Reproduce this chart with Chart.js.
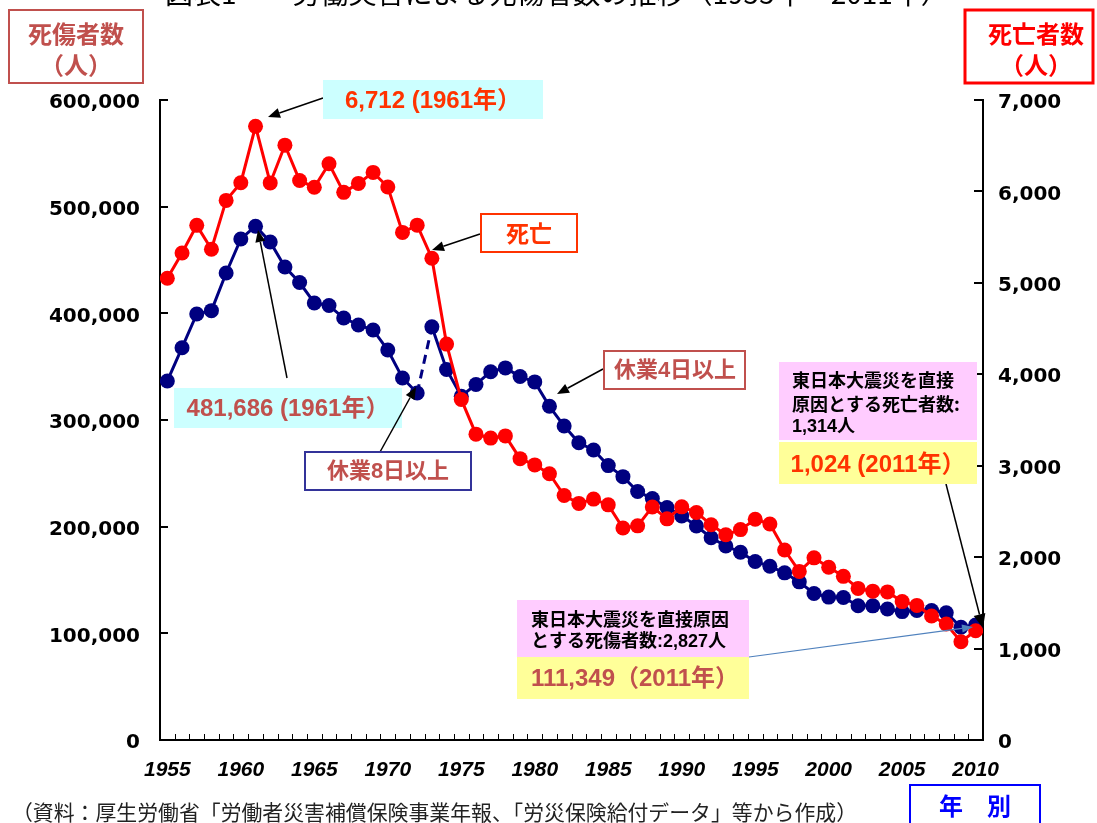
<!DOCTYPE html>
<html>
<head>
<meta charset="utf-8">
<script src="https://cdn.jsdelivr.net/npm/chart.js@4.4.1/dist/chart.umd.min.js"></script>
<style>
  html, body { margin: 0; padding: 0; background: #ffffff; }
  canvas { display: block; }
</style>
</head>
<body>
<canvas id="c" width="1097" height="823"></canvas>
<script>
// Years on the horizontal axis
const years = [
  1955, 1956, 1957, 1958, 1959, 1960, 1961, 1962, 1963, 1964,
  1965, 1966, 1967, 1968, 1969, 1970, 1971, 1972, 1973, 1974,
  1975, 1976, 1977, 1978, 1979, 1980, 1981, 1982, 1983, 1984,
  1985, 1986, 1987, 1988, 1989, 1990, 1991, 1992, 1993, 1994,
  1995, 1996, 1997, 1998, 1999, 2000, 2001, 2002, 2003, 2004,
  2005, 2006, 2007, 2008, 2009, 2010
];

// 死傷者数 (left axis): 休業8日以上 up to 1972, 休業4日以上 from 1973
const casualties = [
  336600, 367800, 399400, 402500, 437800, 469700, 481686, 466900, 443400, 428900,
  409700, 407300, 395600, 389100, 384400, 365600, 339400, 325300, 387342, 347407,
  322322, 333311, 345293, 348826, 340731, 335706, 312844, 294319, 278623, 271884,
  257240, 246891, 232953, 226318, 217964, 210108, 200633, 189589, 181900, 176047,
  167316, 162862, 156726, 148248, 137316, 133948, 133598, 125918, 125750, 122804,
  120354, 121378, 121356, 119291, 105718, 107759
];

// 死亡者数 (right axis)
const deaths = [
  5050, 5327, 5629, 5368, 5902, 6095, 6712, 6093, 6506, 6119,
  6046, 6303, 5990, 6088, 6208, 6048, 5552, 5631, 5269, 4330,
  3725, 3345, 3302, 3326, 3077, 3009, 2912, 2674, 2588, 2635,
  2572, 2318, 2342, 2549, 2419, 2550, 2489, 2354, 2245, 2301,
  2414, 2363, 2078, 1844, 1992, 1889, 1790, 1658, 1628, 1620,
  1514, 1472, 1357, 1268, 1075, 1195
];

// Axis tick values
const leftTicks = [0, 100000, 200000, 300000, 400000, 500000, 600000];
const rightTicks = [0, 1000, 2000, 3000, 4000, 5000, 6000, 7000];
const yearTicks = [1955, 1960, 1965, 1970, 1975, 1980, 1985, 1990, 1995, 2000, 2005, 2010];

// index of the last 休業8日以上 year; the segment after it is dashed
const lastEightDayIndex = 17;

const RED = '#ff0000';
const NAVY = '#000080';
const BROWN = '#c0504d';
const ORANGE = '#ff3300';
const JP = "'Noto Sans CJK JP', sans-serif";
const NUM = "'Liberation Sans', 'Noto Sans CJK JP', sans-serif";

function fmt(v) {
  return v.toLocaleString('en-US');
}

function box(ctx, x, y, w, h, fill, stroke, lw) {
  ctx.save();
  if (fill) { ctx.fillStyle = fill; ctx.fillRect(x, y, w, h); }
  if (stroke) { ctx.strokeStyle = stroke; ctx.lineWidth = lw || 2; ctx.strokeRect(x, y, w, h); }
  ctx.restore();
}

function text(ctx, str, x, y, font, color, align) {
  ctx.save();
  ctx.font = font;
  ctx.fillStyle = color;
  ctx.textAlign = align || 'center';
  ctx.textBaseline = 'middle';
  ctx.fillText(str, x, y);
  ctx.restore();
}

function arrow(ctx, x1, y1, x2, y2, color, lw, headLen, headHalf) {
  const ang = Math.atan2(y2 - y1, x2 - x1);
  const bx = x2 - headLen * Math.cos(ang);
  const by = y2 - headLen * Math.sin(ang);
  ctx.save();
  ctx.strokeStyle = color;
  ctx.lineWidth = lw;
  ctx.beginPath();
  ctx.moveTo(x1, y1);
  ctx.lineTo(bx, by);
  ctx.stroke();
  ctx.fillStyle = color;
  ctx.beginPath();
  ctx.moveTo(x2, y2);
  ctx.lineTo(bx + headHalf * Math.sin(ang), by - headHalf * Math.cos(ang));
  ctx.lineTo(bx - headHalf * Math.sin(ang), by + headHalf * Math.cos(ang));
  ctx.closePath();
  ctx.fill();
  ctx.restore();
}

const decorations = {
  id: 'decorations',
  afterDraw(chart) {
    const ctx = chart.ctx;
    const area = chart.chartArea;
    const sx = chart.scales.x, sl = chart.scales.yL, sr = chart.scales.yR;

    // inward tick marks
    ctx.save();
    ctx.strokeStyle = '#000';
    ctx.lineWidth = 2;
    leftTicks.forEach(v => {
      const py = Math.round(sl.getPixelForValue(v));
      ctx.beginPath(); ctx.moveTo(area.left, py); ctx.lineTo(area.left + 8, py); ctx.stroke();
    });
    rightTicks.forEach(v => {
      const py = Math.round(sr.getPixelForValue(v));
      ctx.beginPath(); ctx.moveTo(area.right - 9, py); ctx.lineTo(area.right, py); ctx.stroke();
    });
    ctx.lineWidth = 1;
    for (let i = 0; i <= years.length; i++) {
      const px = Math.round(sx.getPixelForValue(years[0] - 0.5 + i)) + 0.5;
      ctx.beginPath(); ctx.moveTo(px, area.bottom); ctx.lineTo(px, area.bottom - 6); ctx.stroke();
    }
    ctx.restore();

    // heading (runs off the top edge)
    ctx.save();
    ctx.font = "28px " + JP;
    ctx.fillStyle = '#000';
    ctx.textAlign = 'left';
    ctx.textBaseline = 'alphabetic';
    ctx.fillText('図表1　　労働災害による死傷者数の推移（1955年～2011年）', 165, 4);
    ctx.restore();

    // axis titles
    box(ctx, 9, 10, 134, 73, '#fff', BROWN, 2);
    text(ctx, '死傷者数', 76, 34, "bold 24px " + JP, BROWN);
    text(ctx, '（人）', 76, 65, "bold 24px " + JP, BROWN);
    box(ctx, 965, 10, 128, 73, '#fff', RED, 3);
    text(ctx, '死亡者数', 1036, 34, "bold 24px " + JP, RED);
    text(ctx, '（人）', 1036, 65, "bold 24px " + JP, RED);

    // peak of deaths
    arrow(ctx, 323, 98, 268, 117, '#000', 1.5, 12, 5);
    box(ctx, 323, 80, 220, 39, '#ccffff', null);
    text(ctx, '6,712 (1961年）', 433, 101, "bold 24px " + NUM, ORANGE);

    // 死亡 label
    arrow(ctx, 480, 234, 432, 250, '#000', 1.5, 12, 5);
    box(ctx, 481, 214, 96, 38, '#fff', ORANGE, 2);
    text(ctx, '死亡', 529, 233, "bold 23px " + JP, ORANGE);

    // peak of casualties
    arrow(ctx, 287, 378, 258, 230, '#000', 1.5, 12, 5);
    box(ctx, 174, 388, 228, 40, '#ccffff', null);
    text(ctx, '481,686 (1961年）', 288, 409, "bold 24px " + NUM, BROWN);

    // 休業8日以上
    arrow(ctx, 380, 452, 416, 387, '#000', 1.5, 12, 5);
    box(ctx, 305, 452, 166, 38, '#fff', '#333399', 2);
    text(ctx, '休業8日以上', 388, 472, "bold 22px " + NUM, BROWN);

    // 休業4日以上
    arrow(ctx, 603, 369, 557, 394, '#000', 1.5, 12, 5);
    box(ctx, 604, 351, 141, 38, '#fff', BROWN, 2);
    text(ctx, '休業4日以上', 675, 371, "bold 22px " + NUM, BROWN);

    // 2011 deaths
    arrow(ctx, 946, 484, 983, 628, '#000', 1.5, 14, 6);
    box(ctx, 779, 362, 198, 78, '#ffccff', null);
    text(ctx, '東日本大震災を直接', 792, 380, "bold 18px " + JP, '#000', 'left');
    text(ctx, '原因とする死亡者数:', 792, 404, "bold 18px " + JP, '#000', 'left');
    text(ctx, '1,314人', 792, 427, "bold 18px " + NUM, '#000', 'left');
    box(ctx, 779, 442, 198, 42, '#ffff99', null);
    text(ctx, '1,024 (2011年）', 878, 465, "bold 24px " + NUM, ORANGE);

    // 2011 casualties
    arrow(ctx, 749, 657, 973, 627, '#4f81bd', 1.2, 11, 4);
    box(ctx, 517, 600, 232, 57, '#ffccff', null);
    text(ctx, '東日本大震災を直接原因', 531, 619, "bold 18px " + JP, '#000', 'left');
    text(ctx, 'とする死傷者数:2,827人', 531, 642, "bold 18px " + NUM, '#000', 'left');
    box(ctx, 517, 657, 232, 42, '#ffff99', null);
    text(ctx, '111,349（2011年）', 635, 679, "bold 24px " + NUM, BROWN);

    // source line
    ctx.save();
    ctx.font = "21px " + JP;
    ctx.fillStyle = '#222';
    ctx.textAlign = 'left';
    ctx.textBaseline = 'middle';
    ctx.fillText('（資料：厚生労働省「労働者災害補償保険事業年報、「労災保険給付データ」等から作成）', 12, 812, 845);
    ctx.restore();

    // horizontal axis title
    box(ctx, 910, 785, 130, 45, '#fff', '#0000ff', 2);
    text(ctx, '年　別', 975, 806, "bold 24px " + JP, '#0000ff');
  }
};

const ctx = document.getElementById('c').getContext('2d');
new Chart(ctx, {
  type: 'line',
  data: {
    datasets: [
      {
        label: '死亡者数',
        data: years.map((y, i) => ({ x: y, y: deaths[i] })),
        yAxisID: 'yR',
        borderColor: RED,
        backgroundColor: RED,
        pointBackgroundColor: RED,
        borderWidth: 3,
        pointRadius: 7.5,
        pointBorderWidth: 0,
        tension: 0,
        order: 0
      },
      {
        label: '死傷者数',
        data: years.map((y, i) => ({ x: y, y: casualties[i] })),
        yAxisID: 'yL',
        borderColor: NAVY,
        backgroundColor: NAVY,
        pointBackgroundColor: NAVY,
        borderWidth: 3,
        pointRadius: 7.5,
        pointBorderWidth: 0,
        tension: 0,
        order: 1,
        segment: {
          borderDash: c => (c.p0DataIndex === lastEightDayIndex ? [9, 6] : undefined)
        }
      }
    ]
  },
  options: {
    responsive: false,
    animation: false,
    events: [],
    layout: { padding: { top: 100, left: 0, right: 0, bottom: 0 } },
    plugins: { legend: { display: false }, tooltip: { enabled: false } },
    scales: {
      x: {
        type: 'linear',
        min: years[0] - 0.5,
        max: years[years.length - 1] + 0.5,
        afterBuildTicks: s => { s.ticks = yearTicks.map(v => ({ value: v })); },
        afterFit: s => { s.height = 83; },
        ticks: {
          autoSkip: false,
          maxRotation: 0,
          padding: 18,
          color: '#000',
          font: { family: "'Liberation Sans'", size: 21, style: 'italic', weight: 'bold' },
          callback: v => String(v)
        },
        grid: { drawOnChartArea: false, drawTicks: false },
        border: { display: true, color: '#000', width: 2 }
      },
      yL: {
        type: 'linear',
        position: 'left',
        min: 0,
        max: 600000,
        afterBuildTicks: s => { s.ticks = leftTicks.map(v => ({ value: v })); },
        afterFit: s => { s.width = 160; },
        ticks: {
          padding: 20,
          labelOffset: 3,
          color: '#000',
          font: { family: "'DejaVu Sans'", size: 20, weight: 'bold' },
          callback: v => fmt(v)
        },
        grid: { drawOnChartArea: false, drawTicks: false },
        border: { display: true, color: '#000', width: 2 }
      },
      yR: {
        type: 'linear',
        position: 'right',
        min: 0,
        max: 7000,
        afterBuildTicks: s => { s.ticks = rightTicks.map(v => ({ value: v })); },
        afterFit: s => { s.width = 114; },
        ticks: {
          padding: 15,
          labelOffset: 3,
          color: '#000',
          font: { family: "'DejaVu Sans'", size: 20, weight: 'bold' },
          callback: v => fmt(v)
        },
        grid: { drawOnChartArea: false, drawTicks: false },
        border: { display: true, color: '#000', width: 2 }
      }
    }
  },
  plugins: [decorations]
});
</script>
</body>
</html>
